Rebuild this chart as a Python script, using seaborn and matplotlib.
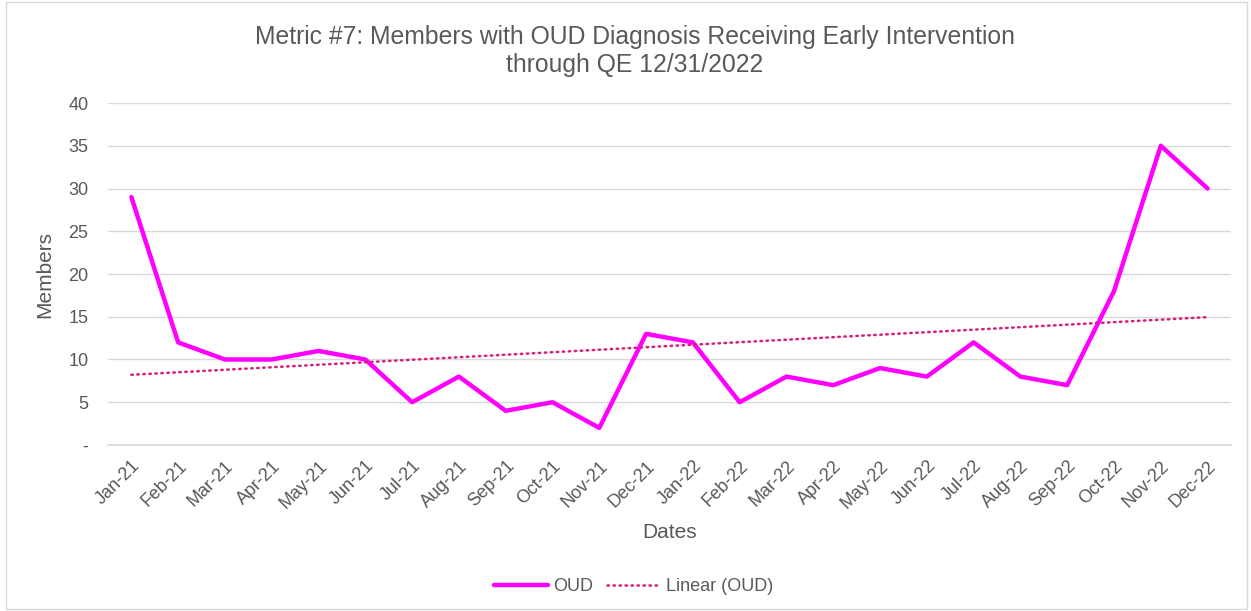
import numpy as np
import pandas as pd
import matplotlib
matplotlib.use("Agg")
import matplotlib.pyplot as plt
import seaborn as sns

months = ["Jan-21", "Feb-21", "Mar-21", "Apr-21", "May-21", "Jun-21", "Jul-21", "Aug-21",
          "Sep-21", "Oct-21", "Nov-21", "Dec-21", "Jan-22", "Feb-22", "Mar-22", "Apr-22",
          "May-22", "Jun-22", "Jul-22", "Aug-22", "Sep-22", "Oct-22", "Nov-22", "Dec-22"]
oud = [29, 12, 10, 10, 11, 10, 5, 8, 4, 5, 2, 13, 12, 5, 8, 7, 9, 8, 12, 8, 7, 18, 35, 30]
y_ticks = [0, 5, 10, 15, 20, 25, 30, 35, 40]
y_labels = ["-", "5", "10", "15", "20", "25", "30", "35", "40"]

sns.set_style("white")
plt.rcParams["font.family"] = ["Liberation Sans", "DejaVu Sans"]
txt = "#595959"
grid = "#D9D9D9"

x = np.arange(len(months))
# excel-style linear trendline (least squares fit)
slope, icpt = np.polyfit(x, oud, 1)
df = pd.DataFrame({"x": x, "OUD": oud, "trend": slope * x + icpt})

fig = plt.figure(figsize=(12.51, 6.11), dpi=100)
ax = fig.add_axes([0.0863, 0.2717, 0.8977, 0.5597])

sns.lineplot(data=df, x="x", y="OUD", ax=ax, color="#FF00FF", linewidth=3.2,
             solid_capstyle="round", label="OUD")
sns.lineplot(data=df, x="x", y="trend", ax=ax, color="#D6207A", linewidth=1.8,
             linestyle=(0, (0.6, 1.8)), dash_capstyle="round", label="Linear (OUD)")

ax.set_xlim(-0.5, len(months) - 0.5)
ax.set_ylim(0, 40)
ax.set_yticks(y_ticks)
ax.set_yticklabels(y_labels)
ax.set_xticks(x)
ax.set_xticklabels(months, rotation=45, ha="right", rotation_mode="anchor")
ax.set_xticks(np.arange(-0.5, len(months)), minor=True)
ax.tick_params(axis="x", which="major", length=0, pad=9, labelsize=13, colors=txt)
ax.tick_params(axis="x", which="minor", length=5, color=grid, width=1)
ax.tick_params(axis="y", length=0, pad=14, labelsize=13, colors=txt)
for t in ax.get_xticklabels():
    t.set_color(txt)

ax.yaxis.grid(True, color=grid, linewidth=1)
ax.set_axisbelow(True)
for s in ["left", "right", "top"]:
    ax.spines[s].set_visible(False)
ax.spines["bottom"].set_color(grid)
ax.spines["bottom"].set_linewidth(1.2)

ax.set_xlabel("Dates", fontsize=15, color=txt, labelpad=8)
ax.set_ylabel("Members", fontsize=15, color=txt, labelpad=10)
fig.text(0.5076, 0.917, "Metric #7: Members with OUD Diagnosis Receiving Early Intervention\nthrough QE 12/31/2022",
         ha="center", va="center", fontsize=17.8, color=txt, linespacing=1.2)

ax.legend(loc="center", bbox_to_anchor=(0.468, -0.415), ncol=2, frameon=False,
          fontsize=13, labelcolor=txt, handlelength=3.0, handletextpad=0.25, columnspacing=0.8)

fig.patches.append(plt.Rectangle((0.005, 0.003), 0.992, 0.994, transform=fig.transFigure,
                                 fill=False, edgecolor=grid, linewidth=1))

fig.savefig("out.png", dpi=100)
